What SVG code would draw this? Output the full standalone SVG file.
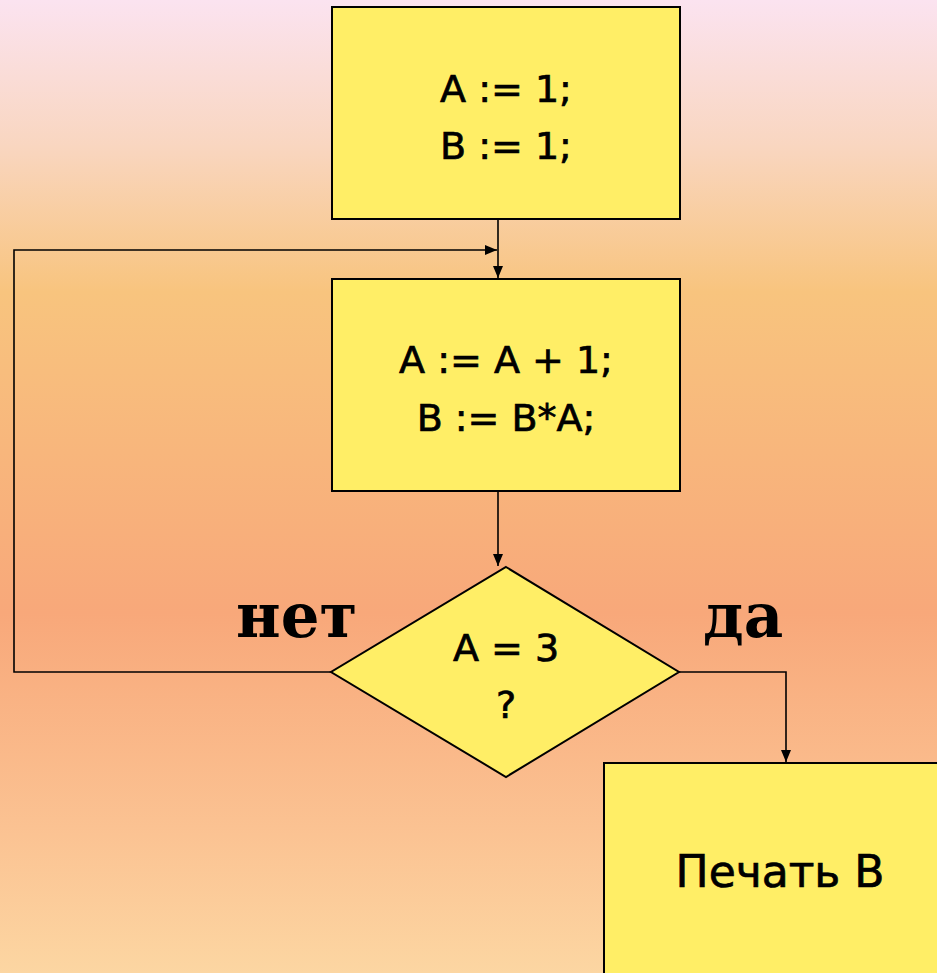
<svg xmlns="http://www.w3.org/2000/svg" width="937" height="973" viewBox="0 0 937 973">
  <defs>
    <linearGradient id="bg" x1="0" y1="0" x2="0" y2="1">
      <stop offset="0" stop-color="#FBE3F0"/>
      <stop offset="0.15" stop-color="#F9D6C0"/>
      <stop offset="0.3" stop-color="#F8C47E"/>
      <stop offset="0.63" stop-color="#F8A87A"/>
      <stop offset="0.85" stop-color="#FBC292"/>
      <stop offset="1" stop-color="#FCD6A2"/>
    </linearGradient>
    <marker id="arrow" viewBox="0 0 12 10" refX="12" refY="5" markerWidth="12" markerHeight="10" markerUnits="userSpaceOnUse" orient="auto">
      <path d="M0,0 L12,5 L0,10 Z" fill="#000"/>
    </marker>
    <style>
      .box { fill: #FFEE66; stroke: #000; stroke-width: 2; }
      .code { font-family: "DejaVu Sans", "Open Sans", sans-serif; font-size: 38px; fill: #000; stroke: #000; stroke-width: 0.7; text-anchor: middle; }
      .lbl { font-family: "DejaVu Serif", "Liberation Serif", serif; font-weight: bold; font-size: 61px; fill: #000; }
      .conn { fill: none; stroke: #000; stroke-width: 1.6; }
    </style>
  </defs>
  <rect x="0" y="0" width="937" height="973" fill="url(#bg)"/>

  <g id="connectors">
    <path class="conn" d="M498,220 L498,278" marker-end="url(#arrow)"/>
    <path class="conn" d="M331,672 L14,672 L14,250 L497,250" marker-end="url(#arrow)"/>
    <path class="conn" d="M498,492 L498,566" marker-end="url(#arrow)"/>
    <path class="conn" d="M679,672 L786,672 L786,762" marker-end="url(#arrow)"/>
  </g>

  <g id="init">
    <rect class="box" x="332" y="7" width="348" height="212"/>
    <text class="code" x="506" y="102">A := 1;</text>
    <text class="code" x="506" y="159">B := 1;</text>
  </g>

  <g id="body">
    <rect class="box" x="332" y="279" width="348" height="212"/>
    <text class="code" x="506" y="373">A := A + 1;</text>
    <text class="code" x="506" y="431">B := B*A;</text>
  </g>

  <g id="cond">
    <polygon class="box" points="506,567 679,672 506,777 331,672" stroke-width="1.6"/>
    <text class="code" x="506" y="661">A = 3</text>
    <text class="code" x="506" y="718">?</text>
  </g>

  <g id="labels">
    <text class="lbl" x="236" y="637">нет</text>
    <text class="lbl" x="703" y="637">да</text>
  </g>

  <g id="print">
    <rect class="box" x="604" y="763" width="345" height="222"/>
    <text class="code" x="780" y="887" style="font-size:44px">Печать B</text>
  </g>
</svg>
